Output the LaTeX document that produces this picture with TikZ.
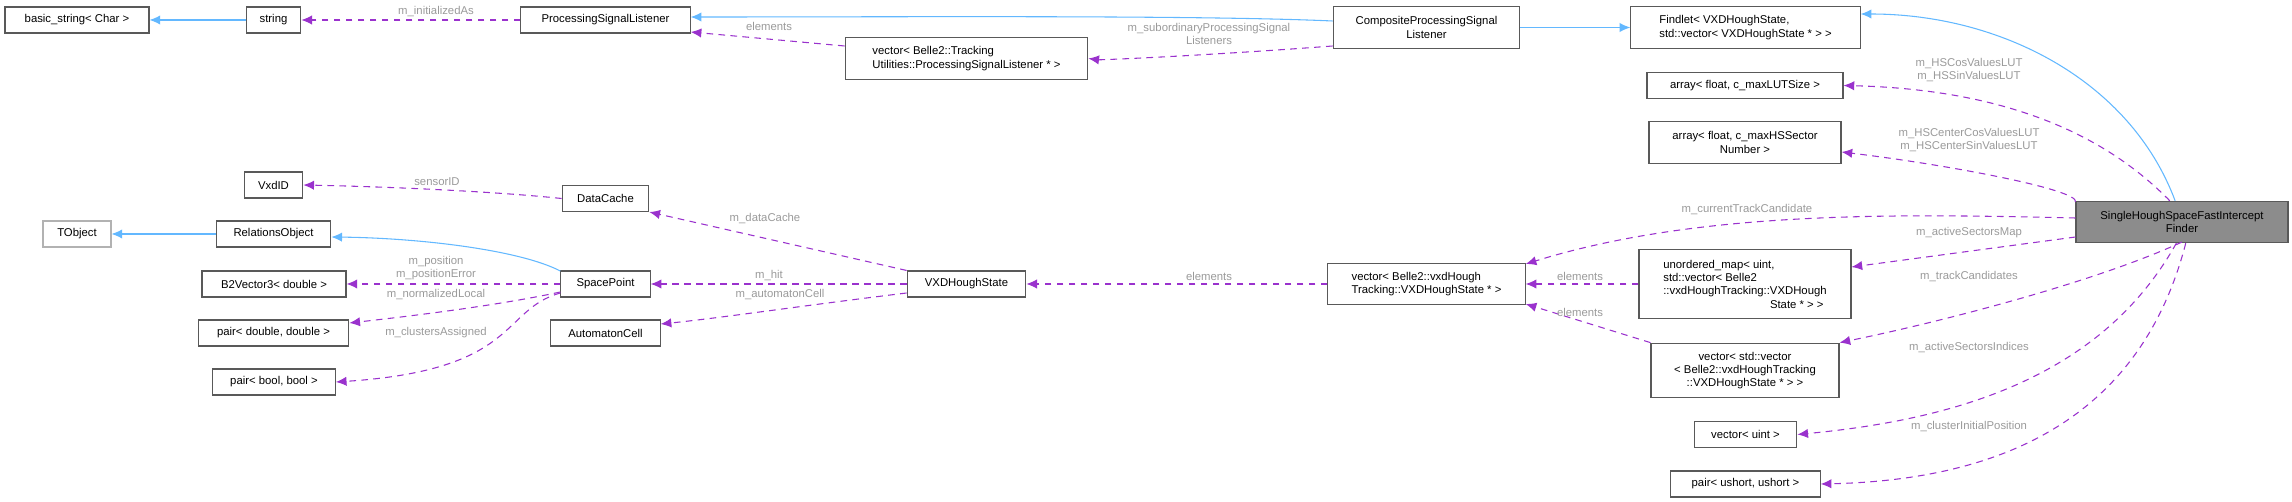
\documentclass[tikz,border=0pt]{standalone}
\usepackage{fontspec}
\setmainfont{Liberation Sans}
\usetikzlibrary{arrows.meta}
\definecolor{inhblue}{HTML}{63B8FF}
\definecolor{usepurple}{HTML}{9A32CD}
\definecolor{lblgray}{HTML}{9A9A9A}
\tikzset{
  cls/.style={draw=black!65, line width=0.8pt, fill=white, inner sep=1pt, align=center, font=\fontsize{8.5}{10}\selectfont},
  inh/.style={draw=inhblue, line width=0.8pt, -{Latex[length=8pt,width=7pt]}},
  use/.style={draw=usepurple, line width=0.8pt, dash pattern=on 5pt off 4pt, -{Latex[length=8pt,width=7pt]}},
  lbl/.style={text=lblgray, align=center, inner sep=0pt, font=\fontsize{8.5}{10}\selectfont}
}
\begin{document}
\begin{tikzpicture}[x=0.75pt,y=-0.75pt]
  \useasboundingbox (0,0) rectangle (2292,502);
  % classes
  \node[cls, minimum width=108pt, minimum height=19.5pt] (bstr) at (77,20) {basic\_string< Char >};
  \node[cls, minimum width=41pt, minimum height=19.5pt] (str) at (273.5,20) {string};
  \node[cls, minimum width=127pt, minimum height=19.5pt] (psl) at (605.5,20) {ProcessingSignalListener};
  \node[cls, minimum width=44pt, minimum height=19.5pt] (vxdid) at (273.5,185) {VxdID};
  \node[cls, minimum width=65pt, minimum height=19.5pt] (dcache) at (605.5,198.5) {DataCache};
  \node[cls, draw=black!30, minimum width=51pt, minimum height=19.5pt] (tobj) at (77,234) {TObject};
  \node[cls, minimum width=86pt, minimum height=19.5pt] (relobj) at (273.5,234) {RelationsObject};
  \node[cls, minimum width=108pt, minimum height=19.5pt] (b2v) at (274,284) {B2Vector3< double >};
  \node[cls, minimum width=67pt, minimum height=19.5pt] (sp) at (605.5,284) {SpacePoint};
  \node[cls, minimum width=113pt, minimum height=19.5pt] (pdd) at (273.5,333) {pair< double, double >};
  \node[cls, minimum width=82pt, minimum height=19.5pt] (acell) at (605.5,333) {AutomatonCell};
  \node[cls, minimum width=92pt, minimum height=19.5pt] (pbb) at (274,382) {pair< bool, bool >};
  \node[cls, minimum width=182pt, minimum height=31pt, align=left] (vpsl) at (966.5,58.5) {vector< Belle2::Tracking\\Utilities::ProcessingSignalListener * >};
  \node[cls, minimum width=89pt, minimum height=19.5pt] (vxdhs) at (966.5,284) {VXDHoughState};
  \node[cls, minimum width=140pt, minimum height=31pt] (comp) at (1426.5,27.5) {CompositeProcessingSignal\\Listener};
  \node[cls, minimum width=148pt, minimum height=31pt, align=left] (vvxd) at (1426.5,284) {vector< Belle2::vxdHough\\Tracking::VXDHoughState * >};
  \node[cls, minimum width=172pt, minimum height=31pt, align=left] (findlet) at (1745.5,27.5) {Findlet< VXDHoughState,\\ std::vector< VXDHoughState * > >};
  \node[cls, minimum width=147pt, minimum height=19.5pt] (alut) at (1745,85.5) {array< float, c\_maxLUTSize >};
  \node[cls, minimum width=144pt, minimum height=31pt] (ahs) at (1745,142.5) {array< float, c\_maxHSSector\\Number >};
  \node[cls, fill=black!45, minimum width=159pt, minimum height=31pt] (single) at (2182,222) {SingleHoughSpaceFastIntercept\\Finder};
  \node[cls, minimum width=159pt, minimum height=52pt, align=left] (umap) at (1745,284) {unordered\_map< uint,\\ std::vector< Belle2\\::vxdHoughTracking::VXDHough\\\hphantom{::vxdHoughTracking::}State * > >};
  \node[cls, minimum width=141pt, minimum height=41pt] (vvec) at (1745,370.5) {vector< std::vector\\< Belle2::vxdHoughTracking\\::VXDHoughState * > >};
  \node[cls, minimum width=77pt, minimum height=19.5pt] (vuint) at (1745.5,434.5) {vector< uint >};
  \node[cls, minimum width=112pt, minimum height=19.5pt] (pus) at (1745.5,484) {pair< ushort, ushort >};
  % inheritance
  \draw[inh] (str) -- (bstr);
  \draw[inh] (relobj) -- (tobj);
  \draw[inh] (comp.west |- 0,21) .. controls (1200,15) and (900,17) .. (psl.east |- 0,17);
  \draw[inh] (comp.east) -- (findlet.west);
  \draw[inh] (single.108) .. controls (2130,80) and (2000,14) .. (findlet.east |- 0,14);
  \draw[inh] (sp.north west |- 0,271) .. controls (520,250) and (420,238) .. (relobj.east |- 0,237);
  % members
  \draw[use] (psl) -- (str);
  \node[lbl] at (436,12) {m\_initializedAs};
  \draw[use] (vpsl.north west |- 0,46) -- (psl.south east |- 0,32);
  \node[lbl] at (769,26) {elements};
  \draw[use] (comp.south west |- 0,46) .. controls (1200,56) and (1100,60) .. (vpsl.east);
  \node[lbl] at (1209,34) {m\_subordinaryProcessingSignal\\Listeners};
  \draw[use] (dcache.west) .. controls (500,192) and (400,187) .. (vxdid.east);
  \node[lbl] at (437,182) {sensorID};
  \draw[use] (vxdhs.north west) -- (dcache.south east);
  \node[lbl] at (765,219) {m\_dataCache};
  \draw[use] (vxdhs) -- (sp);
  \node[lbl] at (769,276) {m\_hit};
  \draw[use] (vxdhs.south west |- 0,293) .. controls (800,306) and (720,318) .. (acell.east |- 0,324);
  \node[lbl] at (780,295) {m\_automatonCell};
  \draw[use] (sp) -- (b2v);
  \node[lbl] at (436,268) {m\_position\\m\_positionError};
  \draw[use] (sp.south west |- 0,292) .. controls (500,305) and (420,315) .. (pdd.east |- 0,323);
  \node[lbl] at (436,295) {m\_normalizedLocal};
  \draw[use] (sp.south west |- 0,293) .. controls (500,310) and (520,370) .. (pbb.east |- 0,382);
  \node[lbl] at (436,333) {m\_clustersAssigned};
  \draw[use] (vvxd) -- (vxdhs);
  \node[lbl] at (1209,276) {elements};
  \draw[use] (umap.west) -- (vvxd.east);
  \node[lbl] at (1580,276) {elements};
  \draw[use] (vvec.north west) -- (vvxd.south east |- 0,304);
  \node[lbl] at (1580,312) {elements};
  \draw[use] (single.west |- 0,218) .. controls (1900,214) and (1700,210) .. (vvxd.north east |- 0,264);
  \node[lbl] at (1747,210) {m\_currentTrackCandidate};
  \draw[use] (single.120) .. controls (2120,150) and (2030,90) .. (alut.east);
  \node[lbl] at (1969,70) {m\_HSCosValuesLUT\\m\_HSSinValuesLUT};
  \draw[use] (single.north west |- 0,202) .. controls (2080,190) and (1950,165) .. (ahs.east |- 0,152);
  \node[lbl] at (1969,140) {m\_HSCenterCosValuesLUT\\m\_HSCenterSinValuesLUT};
  \draw[use] (single.south west |- 0,237) -- (umap.east |- 0,267);
  \node[lbl] at (1969,233) {m\_activeSectorsMap};
  \draw[use] (single.south |- 0,242) .. controls (2100,280) and (1950,320) .. (vvec.north east);
  \node[lbl] at (1969,277) {m\_trackCandidates};
  \draw[use] (single.-105) .. controls (2100,380) and (1950,420) .. (vuint.east);
  \node[lbl] at (1969,348) {m\_activeSectorsIndices};
  \draw[use] (single.-80) .. controls (2140,420) and (2000,480) .. (pus.east);
  \node[lbl] at (1969,427) {m\_clusterInitialPosition};
\end{tikzpicture}
\end{document}
